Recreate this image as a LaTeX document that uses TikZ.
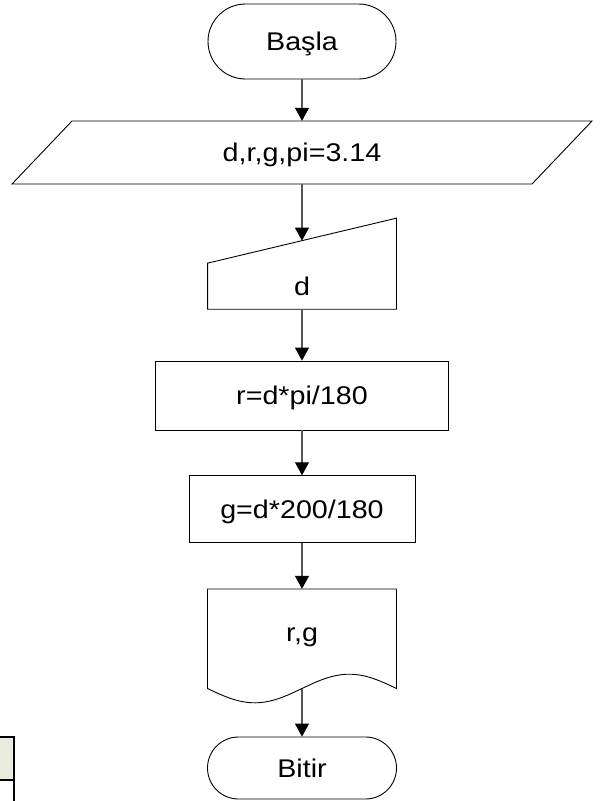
\documentclass[tikz,border=0pt]{standalone}
\usepackage{fontspec}
\setmainfont{Liberation Sans}[FakeStretch=1.12]
\usetikzlibrary{arrows.meta,shapes.misc,calc}
\definecolor{tabfill}{HTML}{ECEADF}
\definecolor{conn}{HTML}{555555}
\tikzset{
 outline/.style={draw=black, line width=0.9pt},
 txt/.style={font=\fontsize{25.6}{30}\selectfont, text height=18.3pt, text depth=0pt, inner sep=0pt, align=center},
 term/.style={txt, outline, rounded rectangle},
 proc/.style={txt, outline, rectangle},
 arr/.style={draw=conn, line width=1.1pt, -{Triangle[width=14pt,length=13pt,color=black]}},
 tabline/.style={draw=black, line width=1.7pt},
}
\begin{document}
\begin{tikzpicture}[x=1pt,y=-1pt]
\useasboundingbox (0,0) rectangle (604,801);
% start
\node[term, minimum width=188pt, minimum height=75pt] (basla) at (302,41.5) {Başla};
% input parallelogram
\node[txt, minimum width=460pt, minimum height=63pt] (inp) at (302,152.5) {d,r,g,pi=3.14};
\draw[outline] (72,121) -- (592,121) -- (532,184) -- (12,184) -- cycle;
% manual input
\node[txt, minimum width=188.5pt, minimum height=45.7pt] (man) at (302,286.2) {d};
\draw[outline] (man.south west) -- (man.north west) -- ($(man.north east)+(0,-45)$) -- (man.south east) -- cycle;
\coordinate (manin) at ($(man.north)+(0,-22.5)$);
% processes
\node[proc, minimum width=292.6pt, minimum height=69pt] (r1) at (302,395.5) {r=d*pi/180};
\node[proc, minimum width=226pt, minimum height=67pt] (r2) at (302,509.2) {g=d*200/180};
% document
\node[txt, minimum width=189pt, minimum height=86pt] (doc) at (302,632) {r,g};
\draw[outline] plot[domain=0:360, samples=72, smooth] ({207.5+\x/360*189},{688.5+14.3*sin(\x)}) -- (396.5,589) -- (207.5,589) -- cycle;
\coordinate (docout) at (302,688.5);
% end
\node[term, minimum width=189pt, minimum height=62pt] (bitir) at (302,768) {Bitir};
% connectors
\draw[arr] (basla.south) -- (inp.north);
\draw[arr] (inp.south) -- (manin);
\draw[arr] (man.south) -- (r1.north);
\draw[arr] (r1.south) -- (r2.north);
\draw[arr] (r2.south) -- (doc.north);
\draw[arr] (docout) -- (bitir.north);
% partial table at left edge
\fill[tabfill] (0,737) rectangle (14,780);
\draw[tabline] (0,737) -- (14,737) -- (14,801);
\draw[tabline] (0,780) -- (14,780);
\end{tikzpicture}
\end{document}
